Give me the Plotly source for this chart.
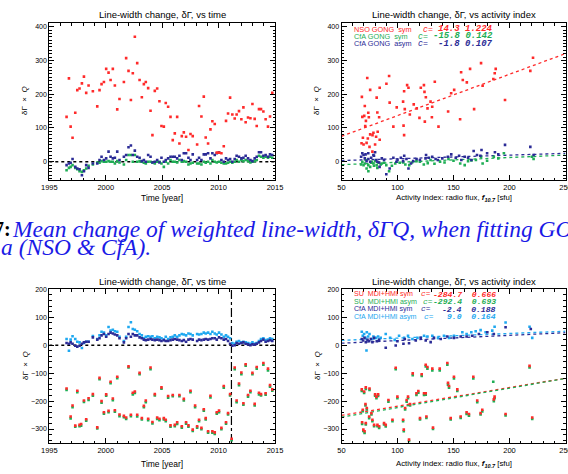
import plotly.graph_objects as go

W, H = 568, 474

# ---------------- data: GONG (top row) ----------------
t_gong = [1996.53, 1996.74, 1996.89, 1997.06, 1997.30, 1997.48, 1997.68, 1997.89, 1998.07, 1998.27,
          1998.48, 1998.86, 1999.25, 1999.45, 1999.63, 1999.84, 2000.04, 2000.25, 2000.43, 2000.63,
          2000.81, 2001.02, 2001.22, 2001.61, 2001.81, 2002.02, 2002.23, 2002.40, 2002.58, 2002.79,
          2003.00, 2003.20, 2003.38, 2003.55, 2003.76, 2003.97, 2004.14, 2004.35, 2004.56, 2004.76,
          2004.94, 2005.15, 2005.32, 2005.53, 2005.74, 2005.94, 2006.12, 2006.33, 2006.53, 2006.74,
          2006.92, 2007.12, 2007.33, 2007.51, 2007.71, 2008.10, 2008.27, 2008.48, 2008.69, 2008.86,
          2009.07, 2009.28, 2009.45, 2009.66, 2009.84, 2010.04, 2010.25, 2010.46, 2010.66, 2010.84,
          2011.02, 2011.22, 2011.43, 2011.60, 2011.81, 2012.02, 2012.20, 2012.40, 2012.61, 2012.82,
          2013.00, 2013.20, 2013.38, 2013.58, 2013.76, 2013.97, 2014.17, 2014.38, 2014.56, 2014.76]
nso_gong_sym = [133, 247, 104, 71, 145, 212, 217, 232, 252, 204,
                226, 209, 164, 212, 230, 236, 275, 264, 242, 275,
                226, 155, 186, 236, 307, 269, 183, 262, 370, 292,
                242, 191, 230, 236, 218, 151, 79, 210, 217, 179,
                106, 104, 174, 163, 133, 64, 84, 133, 54, 76,
                87, 74, 35, 82, 76, 51, 165, 134, 193, 72,
                54, 96, 120, 112, 27, 27, 25, 46, 121, 143,
                190, 140, 128, 140, 150, 126, 161, 117, 131, 129,
                171, 127, 106, 156, 156, 149, 126, 104, 134, 204]
cfa_gong_sym = [-25, -18, -15, -10, -18, -22, -28, -30, -25, -20,
                -12, -8, -2, -3, 2, 0, 0, 2, 0, 0,
                -5, 2, -2, -8, 5, 20, 20, 0, 20, 0,
                2, 0, -3, -5, 0, 0, -2, -5, 0, 0,
                -5, -15, 0, -5, 5, 0, 0, -2, 5, 0,
                2, 0, -8, -5, -3, -5, -5, -8, 0, -3,
                0, -5, 5, 0, -2, 0, -3, -5, -5, -3,
                0, -3, 0, 5, 0, 5, 2, 5, 2, -2,
                0, 2, 5, 18, 15, 12, 15, 12, 15, 12]
cfa_gong_asym = [-10, -5, -3, 8, -15, -20, -22, -40, -28, -10,
                 -18, -5, -5, 5, 15, 5, 10, 30, 15, 10,
                 12, 30, 5, 15, 20, 43, 48, 20, 33, 15,
                 12, 2, 5, 0, 20, 15, -2, 0, 5, -2,
                 12, 0, 5, 10, 15, 15, 15, 10, 18, 5,
                 25, 25, 12, 5, 22, 5, 12, 5, 22, 22,
                 25, 10, 25, 20, 25, 28, 5, 0, 10, 5,
                 8, 0, 8, 18, 15, 10, 12, 18, 10, 5,
                 2, 10, 15, 28, 28, 18, 20, 15, 22, 20]

# vs activity index (top right)
f_nso = [221, 218.6, 196, 187.7, 186.8, 185.6, 176, 174.6, 168.4, 164.8, 161.9, 158.3, 156.8, 155.9,
         150.6, 147.9, 145.2, 136.6, 133.3, 130.7, 131, 129.5, 126.8, 125.3, 124.1, 124.4, 123.6,
         120.8, 119.6, 117.2, 114.5, 111, 109.8, 108.6, 106.5, 105.9, 105, 105.4, 105.9, 99.3, 96.3,
         93, 92.5, 90.1, 84.1, 84.1, 83.6, 82.3, 81.4, 82, 80.9, 80, 78.5, 77.7, 75.6, 75.6, 75,
         74.4, 73.9, 73.5, 73, 72.4, 71.8, 71.2, 70.8, 70.3, 69.7, 69.1, 68.6, 68.2, 67.9, 77.6]
nso_vs_f = [308, 269, 183, 275, 262, 245, 225, 292, 156, 275, 235, 242, 265, 126,
            213, 203, 149, 104, 237, 132, 163, 178, 158, 191, 207, 119, 227,
            219, 130, 158, 170, 140, 219, 227, 156, 209, 178, 107, 79, 161, 104,
            175, 254, 231, 65, 219, 132, 89, 190, 146, 74, 51, 86, 79, 81, 213, 44,
            132, 145, 69, 248, 56, 121, 106, 165, 136, 51, 71, 133, 192, 55, 30]
f_cfa_sym = [68.6, 69.7, 70.8, 72.4, 73.9, 75.6, 77, 78.5, 80, 81.4, 83, 86, 92.5, 98, 105, 110.5,
             117, 123.5, 129.5, 138, 145.5, 156, 163, 170, 174.6, 176, 186, 195, 221.5,
             67.5, 71.5, 74, 76.5, 79, 82, 85, 88, 90, 95, 102, 107, 113, 120, 127, 133, 142,
             150, 160, 166, 180, 190, 220]
cfa_sym_vs_f = [0, -10, -5, -20, -10, -15, 0, -5, 2, -10, -2, -5, -28, -5, -2, -10,
                2, -8, 5, 0, 8, -5, 2, 5, 15, -5, 15, 25, 8,
                -8, 5, -28, -3, -12, -18, -8, -3, -10, -12, -3, -8, -2, 0, -4, -6, -2,
                3, -10, 4, 3, 10, 15]
f_cfa_asym = [68.6, 69.7, 70.8, 72.4, 73.9, 75.6, 78.5, 80, 81, 83.6, 84, 90, 93, 96.3, 99, 105,
              106, 109.8, 114, 117, 125, 125.5, 131, 136, 145, 148, 155, 157, 163, 168, 174, 175,
              187, 196, 218.6, 221.5,
              67.5, 71.5, 74, 76.5, 79, 82, 86, 88, 100, 103, 108, 112, 120, 128, 134, 140, 152,
              160, 166, 171, 180, 190]
cfa_asym_vs_f = [25, 20, 10, 2, 25, 0, 20, 28, 5, -2, -15, -37, -20, 12, 0, 2,
                 18, -20, 2, 8, 10, 20, 15, 5, 15, 22, 18, 5, 12, 32, 18, 35,
                 28, 50, 44, 20,
                 15, 22, 8, 12, 18, 0, 10, 5, 5, 12, 8, -5, 5, 12, 8, 10, 12,
                 15, 5, 20, 25, 22]

# ---------------- data: MDI+HMI (bottom row) ----------------
t_mdi = [1996.53, 1996.89, 1997.06, 1997.30, 1997.48, 1997.68, 1997.82, 1998.07, 1998.27, 1998.48,
         1998.86, 1999.25, 1999.45, 1999.63, 1999.84, 2000.04, 2000.25, 2000.43, 2000.63, 2000.81,
         2001.02, 2001.22, 2001.61, 2001.81, 2002.02, 2002.23, 2002.40, 2002.58, 2002.79, 2003.00,
         2003.20, 2003.38, 2003.55, 2003.76, 2003.97, 2004.14, 2004.35, 2004.56, 2004.76, 2004.94,
         2005.15, 2005.32, 2005.53, 2005.74, 2005.94, 2006.12, 2006.33, 2006.53, 2006.74, 2006.92,
         2007.12, 2007.33, 2007.51, 2007.71, 2007.92, 2008.10, 2008.27, 2008.48, 2008.69, 2008.86,
         2009.07, 2009.28, 2009.45, 2009.66, 2009.84, 2010.04, 2010.25, 2010.46, 2010.66, 2010.84,
         2011.02, 2011.16, 2011.43, 2011.60, 2011.81, 2012.02, 2012.20, 2012.40, 2012.61, 2012.82,
         2013.00, 2013.20, 2013.38, 2013.58, 2013.76, 2013.97, 2014.17, 2014.38, 2014.56, 2014.76]
su_sym = [-155, -255, -216, -288, -163, -285, -282, -198, -265, -190,
          -175, -294, -117, -200, -240, -176, -235, -131, -191, -233,
          -113, -248, -253, -259, -76, -249, -170, -166, -249, -99,
          -261, -217, -198, -263, -80, -275, -175, -259, -263, -151,
          -261, -267, -182, -287, -178, -285, -276, -178, -290, -192,
          -276, -287, -163, -302, -216, -290, -267, -296, -229, -261,
          -308, -181, -308, -312, -240, -234, -296, -146, -276, -243,
          -175, -335, -80, -198, -137, -98, -208, -68, -178, -163,
          -99, -210, -78, -170, -175, -64, -172, -84, -143, -158]
su_asym = [-160, -262, -222, -292, -168, -290, -288, -203, -270, -196,
           -181, -298, -122, -206, -245, -181, -240, -136, -197, -238,
           -118, -254, -258, -264, -80, -254, -176, -171, -255, -104,
           -266, -222, -204, -268, -86, -280, -180, -264, -268, -156,
           -266, -272, -188, -292, -183, -290, -282, -183, -295, -198,
           -281, -292, -168, -307, -222, -295, -272, -301, -234, -266,
           -313, -187, -313, -318, -245, -240, -301, -152, -281, -248,
           -180, -340, -86, -204, -143, -104, -213, -73, -184, -168,
           -104, -216, -84, -176, -180, -70, -177, -90, -149, -163]
cfa_mdi_sym = [8, 5, 10, 5, -2, -5, -2, 5, 10, 12,
               12, 28, 20, 25, 35, 40, 30, 40, 45, 42,
               38, 35, 25, 10, 25, 40, 30, 40, 35, 35,
               28, 25, 20, 18, 20, 22, 20, 18, 20, 18,
               15, 18, 15, 15, 18, 20, 22, 20, 18, 15,
               18, 12, 20, 22, 20, 15, 20, 18, 20, 22,
               20, 22, 25, 25, 20, 28, 25, 20, 22, 15,
               5, -2, 0, 8, 5, 8, 10, 5, 3, 0,
               3, 2, 5, 10, 15, 20, 12, 15, 18, 15]
cfa_mdi_asym = [22, -20, 20, 32, 22, 12, 10, -10, 8, 12,
                12, 33, 22, 35, 48, 45, 35, 65, 52, 55,
                50, 48, 30, 15, 30, 65, 82, 58, 55, 50,
                40, 35, 25, 30, 32, 30, 32, 25, 30, 28,
                25, 20, 30, 22, 28, 30, 35, 30, 35, 40,
                38, 35, 42, 40, 35, 40, 38, 40, 45, 42,
                45, 40, 48, 42, 38, 45, 38, 30, 35, 30,
                25, 8, 5, 12, 15, 10, 12, 10, 8, 5,
                10, 5, 8, 15, 22, 25, 18, 20, 25, 22]

# vs activity index (bottom right)
f_su = [68.1, 69.0, 68.4, 69.5, 70.6, 70.2, 71.4, 71.7, 72.6, 75.0, 74.7, 71.7, 76.7, 77.6, 79.1,
        80.0, 81.2, 82.1, 83.6, 82.7, 88.0, 89.5, 91.9, 95.5, 98.4, 99.9, 105.0, 105.6, 106.8,
        108.2, 109.4, 110.3, 111.2, 113.6, 116.9, 118.6, 120.1, 121.6, 123.7, 125.2, 125.2, 125.8,
        126.7, 131.1, 131.7, 137.7, 144.5, 145.1, 146.0, 147.5, 150.4, 153.4, 156.4, 161.7, 163.8,
        167.7, 171.2, 174.2, 175.7, 186.7, 186.0, 196.5, 217.9, 220.3]
su_sym_vs_f = [-158, -231, -276, -302, -308, -166, -211, -151, -225, -155, -255, -279, -243, -267, -285,
               -176, -184, -285, -290, -176, -279, -285, -196, -267, -81, -184, -267, -302, -225,
               -196, -184, -338, -211, -101, -172, -164, -261, -104, -172, -70, -172, -255,
               -78, -84, -295, -84, -64, -135, -146, -261, -113, -158, -255, -240, -246,
               -113, -198, -243, -231, -184, -194, -246, -74, -259]
f_su_asym = [68.1, 69.0, 68.4, 69.5, 70.6, 70.2, 71.4, 71.7, 72.6, 75.0, 74.7, 71.7, 76.7, 77.6, 79.1,
             80.0, 81.2, 82.1, 83.6, 82.7, 88.0, 89.5, 91.9, 95.5, 98.4, 99.9, 105.0, 105.6, 106.8,
             108.2, 109.4, 110.3, 111.2, 113.6, 116.9, 118.6, 120.1, 121.6, 123.7, 125.2, 125.2, 125.8,
             126.7, 131.1, 131.7, 137.7, 144.5, 145.1, 146.0, 147.5, 150.4, 153.4, 156.4, 161.7, 163.8,
             167.7, 171.2, 174.2, 175.7, 186.7, 186.0, 196.5, 217.9, 220.3, 185.5]
su_asym_vs_f = [-164, -236, -282, -307, -314, -171, -216, -157, -230, -160, -261, -284, -248, -272, -290,
                -181, -190, -290, -296, -182, -284, -291, -202, -272, -86, -190, -272, -308, -230,
                -202, -190, -343, -216, -107, -178, -170, -266, -110, -178, -76, -177, -260,
                -84, -90, -300, -90, -70, -141, -152, -266, -119, -164, -260, -246, -252,
                -119, -204, -248, -237, -190, -200, -251, -80, -264, -131]
f_cfa_mdi_asym = [68.1, 69.0, 70.2, 71.4, 72.6, 73.8, 75.0, 76.7, 78.5, 80.6, 82.7, 85.0, 72.3, 89.5,
                  93.4, 97.5, 101.4, 105.9, 109.4, 113.3, 117.8, 123.7, 126.7, 131.1, 136.2, 141.5,
                  146.0, 150.4, 157.9, 161.7, 165.9, 169.8, 174.2, 178.7, 184.6, 186.7, 196.5, 217.9, 220.3]
cfa_mdi_asym_vs_f = [48, 34, 40, 26, 46, 31, 40, 22, 31, 26, 31, 26, -19, 40,
                     26, 19, 34, 26, 34, 22, 26, 34, 31, 34, 26, 34,
                     26, 34, 46, 40, 46, 50, 54, 46, 52, 66, 81, 66, 26]
f_cfa_mdi_sym = [68.1, 69.3, 70.5, 71.7, 73.2, 74.7, 76.2, 77.6, 79.1, 81.5, 83.6, 89.5, 98.4, 99.9,
                 105.3, 106.5, 110.3, 116.3, 120.7, 125.2, 129.6, 132.6, 138.6, 144.5, 150.4, 156.4,
                 161.7, 166.8, 172.7, 180.2, 186.0, 196.5, 219.0]
cfa_mdi_sym_vs_f = [22, 17, 26, 11, 19, 14, 22, 11, 26, 14, 19, -9, -1, 14,
                    5, 22, 7, 17, 26, 17, 11, 26, 22, 31, 26, 31,
                    31, 34, 40, 46, 40, 64, 58]

# linear fits  c = a + b * F10.7
fit_gong_a = [14.3, -15.8, -1.8]
fit_gong_b = [1.224, 0.142, 0.107]
fit_mdi_a = [-284.7, -292.4, -2.4, 9.0]
fit_mdi_b = [0.666, 0.693, 0.188, 0.164]
fit_f = [50, 250]

labels_gong = ["NSO GONG  sym", "CfA GONG  sym", "CfA GONG  asym"]
labels_mdi = ["SU  MDI+HMI sym", "SU  MDI+HMI asym", "CfA MDI+HMI sym", "CfA MDI+HMI asym"]

year_range = [1995, 2015]
flux_range = [50, 250]
y_top_range = [-54, 410]
y_bot_range = [-350, 201]
cut_year = 2011.14

# ---------------- styling ----------------
RED = "#ff2a2a"
GREEN = "#1fae55"
NAVY = "#2b2b96"
LBLUE = "#1ea8f0"
SANS = "Liberation Sans"
MONO = "Liberation Mono"
MS = 2.6

def px_x(x):
    return x / W

def px_y(y):
    return 1 - y / H

fig = go.Figure()

def pts(x, y, color, ax):
    fig.add_trace(go.Scatter(x=x, y=y, mode="markers", xaxis="x" + ax, yaxis="y" + ax,
                             marker=dict(symbol="square", size=MS, color=color, line=dict(width=0)),
                             hoverinfo="skip"))

def line(x, y, color, dash, ax, width=1.4):
    fig.add_trace(go.Scatter(x=x, y=y, mode="lines", xaxis="x" + ax, yaxis="y" + ax,
                             line=dict(color=color, dash=dash, width=width), hoverinfo="skip"))

# top-left
line(year_range, [0, 0], "black", "dot", "", 1.5)
pts(t_gong, cfa_gong_sym, GREEN, "")
pts(t_gong, cfa_gong_asym, NAVY, "")
pts(t_gong, nso_gong_sym, RED, "")

# top-right
fit_cols_top = [RED, GREEN, NAVY]
for a, b, c in zip(fit_gong_a, fit_gong_b, fit_cols_top):
    line(fit_f, [a + b * f for f in fit_f], c, "dot", "2", 1.3)
pts(f_cfa_sym, cfa_sym_vs_f, GREEN, "2")
pts(f_cfa_asym, cfa_asym_vs_f, NAVY, "2")
pts(f_nso, nso_vs_f, RED, "2")

# bottom-left
line(year_range, [0, 0], "black", "dot", "3", 1.5)
line([cut_year, cut_year], y_bot_range, "black", "dashdot", "3", 1.2)
pts(t_gong, cfa_mdi_asym, LBLUE, "3")
pts(t_gong, cfa_mdi_sym, NAVY, "3")
pts(t_mdi, su_asym, GREEN, "3")
pts(t_mdi, su_sym, RED, "3")

# bottom-right
fit_cols_bot = [RED, GREEN, NAVY, LBLUE]
for a, b, c in zip(fit_mdi_a, fit_mdi_b, fit_cols_bot):
    line(fit_f, [a + b * f for f in fit_f], c, "dot", "4", 1.3)
pts(f_cfa_mdi_asym, cfa_mdi_asym_vs_f, LBLUE, "4")
pts(f_cfa_mdi_sym, cfa_mdi_sym_vs_f, NAVY, "4")
pts(f_su_asym, su_asym_vs_f, GREEN, "4")
pts(f_su, su_sym_vs_f, RED, "4")

# ---------------- axes ----------------
dom_left = [px_x(49.3), px_x(275)]
dom_right = [px_x(341.5), px_x(565.5)]
dom_top = [px_y(180), px_y(23.3)]
dom_bot = [px_y(443), px_y(289)]

def xax(domain, rng, tick0, dtick, mdtick, anchor):
    return dict(domain=domain, range=rng, tick0=tick0, dtick=dtick, anchor=anchor, automargin=False,
                ticklabeloverflow="allow",
                ticks="inside", ticklen=5, tickwidth=1, tickcolor="black",
                showline=True, linecolor="black", linewidth=1, mirror="allticks",
                showgrid=False, zeroline=False,
                tickfont=dict(family=SANS, size=7.5, color="black"),
                minor=dict(ticks="inside", dtick=mdtick, ticklen=2.5, tickcolor="black", showgrid=False))

def yax(domain, rng, mdtick, anchor):
    return dict(domain=domain, range=rng, tick0=0, dtick=100, anchor=anchor, automargin=False,
                ticklabeloverflow="allow",
                ticks="inside", ticklen=5, tickwidth=1, tickcolor="black",
                showline=True, linecolor="black", linewidth=1, mirror="allticks",
                showgrid=False, zeroline=False,
                tickfont=dict(family=SANS, size=7, color="black"),
                minor=dict(ticks="inside", dtick=mdtick, ticklen=2.5, tickcolor="black", showgrid=False))

fig.update_layout(
    width=W, height=H, margin=dict(l=0, r=0, t=0, b=0, pad=0), autosize=False,
    paper_bgcolor="white", plot_bgcolor="white", showlegend=False,
    xaxis=xax(dom_left, year_range, 1995, 5, 1, "y"),
    yaxis=yax(dom_top, y_top_range, 10, "x"),
    xaxis2=xax(dom_right, flux_range, 50, 50, 10, "y2"),
    yaxis2=yax(dom_top, y_top_range, 10, "x2"),
    xaxis3=xax(dom_left, year_range, 1995, 5, 1, "y3"),
    yaxis3=yax(dom_bot, y_bot_range, 20, "x3"),
    xaxis4=xax(dom_right, flux_range, 50, 50, 10, "y4"),
    yaxis4=yax(dom_bot, y_bot_range, 20, "x4"),
)

ann = []

def text(x, y, s, size=8, family=SANS, color="black", xanchor="center", angle=0):
    ann.append(dict(x=px_x(x), y=px_y(y), xref="paper", yref="paper", text=s, showarrow=False,
                    xanchor=xanchor, yanchor="middle", textangle=angle, borderpad=0,
                    font=dict(family=family, size=size, color=color)))

cl = (49.3 + 275) / 2
cr = (341.5 + 565.5) / 2
title_t = "Line-width change, δΓ, vs time"
title_f = "Line-width change, δΓ, vs activity index"
text(cl, 15, title_t, 9.5)
text(cr, 15, title_f, 9.5)
text(cl, 281, title_t, 9.5)
text(cr, 281, title_f, 9.5)

ylab = "δΓ  ×  <i>Q</i>"
text(25, 101, ylab, 8, angle=-90)
text(317, 101, ylab, 8, angle=-90)
text(25, 366, ylab, 8, angle=-90)
text(317, 366, ylab, 8, angle=-90)

xlab_t = "Time [year]"
xlab_f = "Activity index: radio flux, <b><i>f</i></b><sub><b><i>10.7</i></b></sub> [sfu]"
text(cl, 198.5, xlab_t, 8.5)
text(cr, 198.5, xlab_f, 7.8)
text(cl, 463.5, xlab_t, 8.5)
text(cr, 463.5, xlab_f, 7.8)

# legends with fit coefficients
rows_top = [29, 36.3, 43.6]
cx_top = [421.5, 416.5, 417]
for lab, a, b, c, y, cx in zip(labels_gong, fit_gong_a, fit_gong_b, fit_cols_top, rows_top, cx_top):
    text(353, y, lab, 7.3, color=c, xanchor="left")
    text(cx, y, "<i>c</i>=", 8.3, family=MONO, color=c, xanchor="left")
    text(493.5, y, "<b><i>%.1f %.3f</i></b>" % (a, b), 9, family=MONO, color=c, xanchor="right")

rows_bot = [294, 301.5, 309, 316.5]
cx_bot = [420, 421.5, 420, 423]
for lab, a, b, c, y, cx in zip(labels_mdi, fit_mdi_a, fit_mdi_b, fit_cols_bot, rows_bot, cx_bot):
    text(352.5, y, lab, 7.1, color=c, xanchor="left")
    text(cx, y, "<i>c</i>=", 7.8, family=MONO, color=c, xanchor="left")
    text(497, y, "<b><i>%.1f  %.3f</i></b>" % (a, b), 8.1, family=MONO, color=c, xanchor="right")

# caption text between the rows
CAP = "#1a1ae6"
SERIF = "Liberation Serif"
ann.append(dict(x=px_x(11.5), y=px_y(229), xref="paper", yref="paper", showarrow=False,
                xanchor="right", yanchor="middle", borderpad=0,
                text="<b>7:</b>", font=dict(family=SERIF, size=20, color="black")))
ann.append(dict(x=px_x(10.5), y=px_y(229), xref="paper", yref="paper", showarrow=False,
                xanchor="left", yanchor="middle", borderpad=0,
                text="<i>Mean change of weighted line-width, δΓQ, when fitting GONG</i>",
                font=dict(family=SERIF, size=23.5, color=CAP)))
ann.append(dict(x=px_x(0), y=px_y(247), xref="paper", yref="paper", showarrow=False,
                xanchor="left", yanchor="middle", borderpad=0,
                text="<i>a (NSO &amp; CfA).</i>",
                font=dict(family=SERIF, size=23.5, color=CAP)))

fig.update_layout(annotations=ann)
fig.write_html("out.html")
